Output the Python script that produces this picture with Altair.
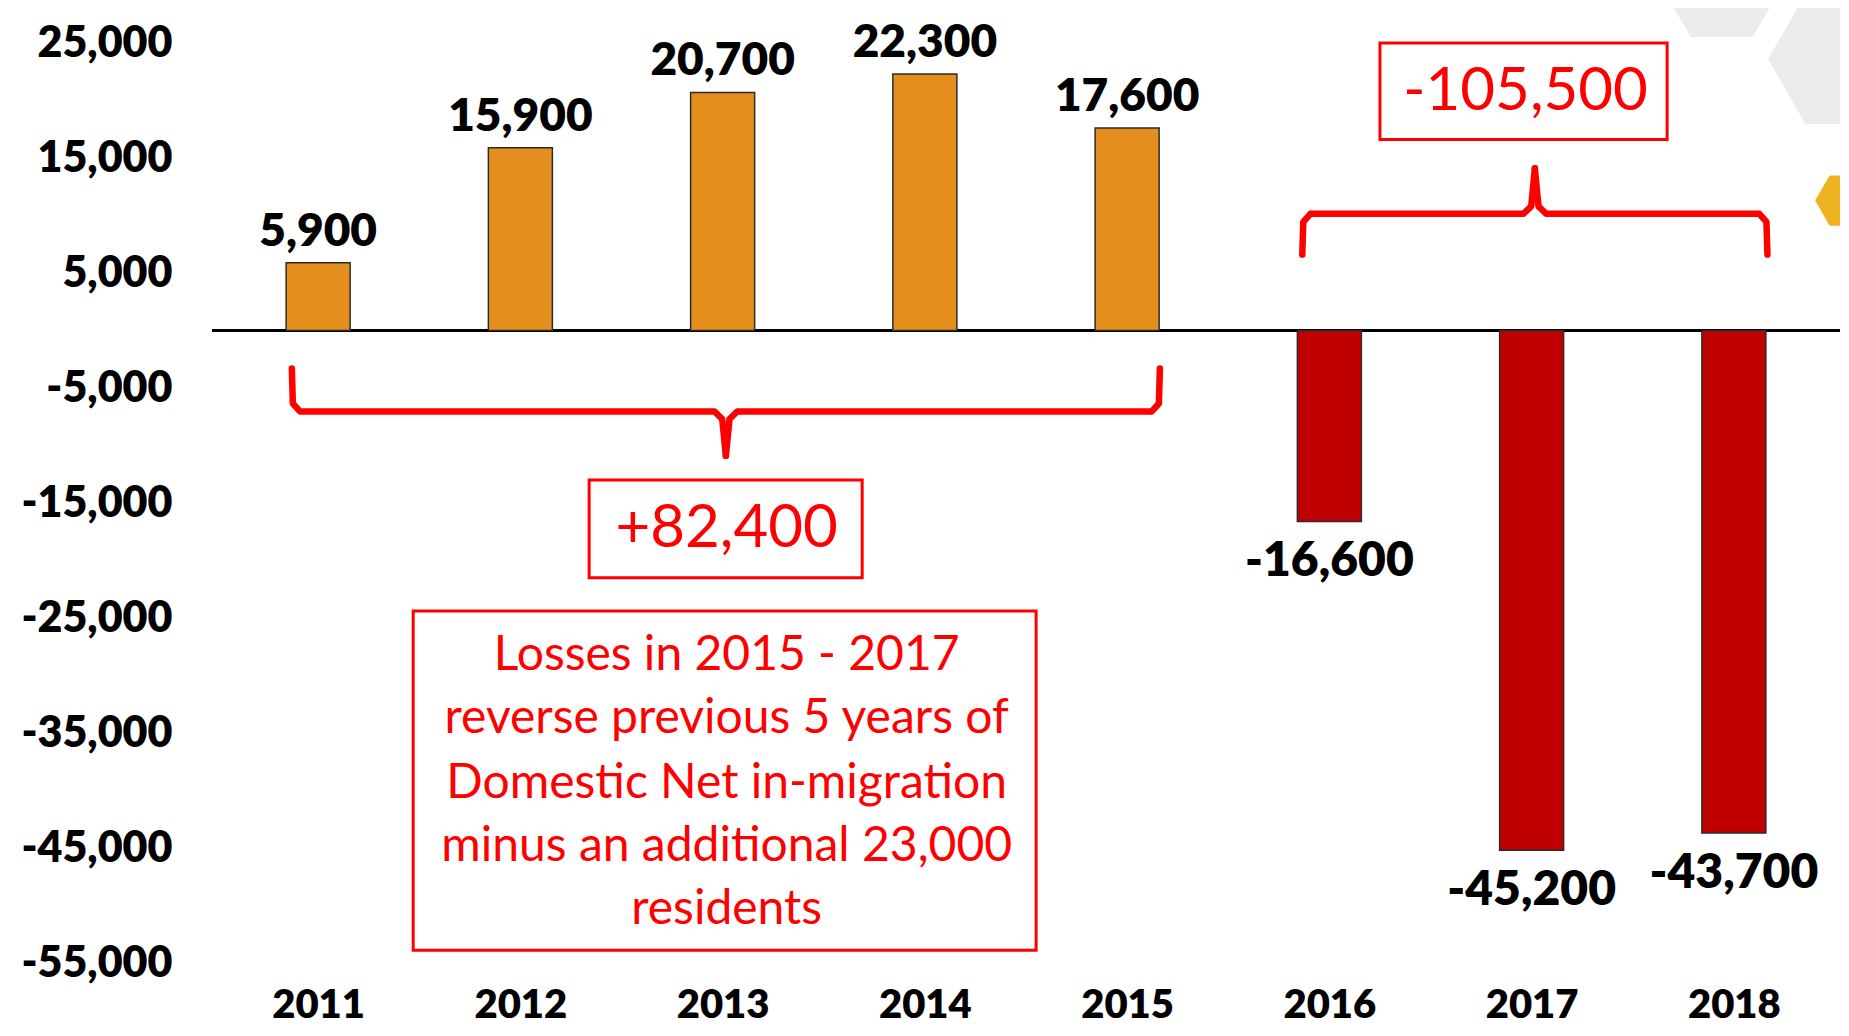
import altair as alt
import pandas as pd

# ---- chart values ----
years = [2011, 2012, 2013, 2014, 2015, 2016, 2017, 2018]
values = [5900, 15900, 20700, 22300, 17600, -16600, -45200, -43700]
y_ticks = [25000, 15000, 5000, -5000, -15000, -25000, -35000, -45000, -55000]

total_gain_label = "+82,400"
total_loss_label = "-105,500"
note_lines = [
    "Losses in 2015 - 2017",
    "reverse previous 5 years of",
    "Domestic Net in-migration",
    "minus an additional 23,000",
    "residents",
]

# ---- annotation geometry (data coordinates) ----
brace_seg = ["a"] * 6 + ["b"] * 6 + ["c"] * 6 + ["d"] * 6
brace_x = [2010.870, 2010.875, 2010.910, 2012.960, 2012.998, 2013.016,
           2015.162, 2015.157, 2015.122, 2013.072, 2013.034, 2013.016,
           2015.866, 2015.871, 2015.906, 2016.960, 2016.998, 2017.016,
           2018.166, 2018.161, 2018.126, 2017.072, 2017.034, 2017.016]
brace_y = [-3300, -6350, -7040, -7040, -7700, -10900,
           -3300, -6350, -7040, -7040, -7700, -10900,
           6600, 9450, 10150, 10150, 10800, 14100,
           6600, 9450, 10150, 10150, 10800, 14100]

box_x1 = [2012.34, 2016.25, 2011.47]
box_x2 = [2013.69, 2017.67, 2014.55]
box_y1 = [-13000, 25000, -24400]
box_y2 = [-21500, 16600, -53900]

big_label_x = [2013.02, 2016.97]
big_label_y = [-17300, 20700]
note_x = 2013.02
note_y = [-28300, -33800, -39400, -44900, -50400]

hex_x = [2017.94, 2018.54, 2018.545]
hex_y = [30200, 23600, 11300]
hex_size = [15376, 22500, 3364]
hex_color = ["#EBEBEB", "#EBEBEB", "#EFB321"]

FONT = "Lato"
RED = "#FF0000"
HEAVY = 800

df = pd.DataFrame({"year": years, "value": values})
df["label"] = [f"{v:,}" for v in values]
df["color"] = ["#E48F1D" if v > 0 else "#C00000" for v in values]

brace_df = pd.DataFrame({"seg": brace_seg, "x": brace_x, "y": brace_y,
                         "i": list(range(len(brace_x)))})
box_df = pd.DataFrame({"x1": box_x1, "x2": box_x2, "y1": box_y1, "y2": box_y2})
big_df = pd.DataFrame({"x": big_label_x, "y": big_label_y,
                       "t": [total_gain_label, total_loss_label]})
note_df = pd.DataFrame({"x": [note_x] * len(note_lines), "y": note_y, "t": note_lines})
hex_df = pd.DataFrame({"x": hex_x, "y": hex_y, "s": hex_size, "c": hex_color})

xscale = alt.Scale(domain=[2010.5, 2018.5], nice=False, zero=False)
yscale = alt.Scale(domain=[-55000, 25000], nice=False, zero=False)

X = alt.X("year:Q", scale=xscale, title=None,
          axis=alt.Axis(values=years, format="d", domain=False, ticks=False, grid=False,
                        labelFont=FONT, labelFontWeight=HEAVY, labelFontSize=40,
                        labelColor="#000000", labelPadding=42, labelBaseline="middle",
                        labelFlush=False))
Y = alt.Y("value:Q", scale=yscale, title=None,
          axis=alt.Axis(values=y_ticks, domain=False, ticks=False, grid=False,
                        labelFont=FONT, labelFontWeight=HEAVY, labelFontSize=43,
                        labelColor="#000000", labelPadding=40,
                        labelExpr="(datum.value < 0 ? '-' : '') + format(abs(datum.value), ',')"))

HEX = "M-1,0 L-0.5,-0.866 L0.5,-0.866 L1,0 L0.5,0.866 L-0.5,0.866 Z"

hexes = alt.Chart(hex_df).mark_point(shape=HEX, filled=True, opacity=1, strokeWidth=0).encode(
    x=alt.X("x:Q", scale=xscale),
    y=alt.Y("y:Q", scale=yscale),
    size=alt.Size("s:Q", scale=None),
    color=alt.Color("c:N", scale=None),
)

bars = alt.Chart(df).mark_bar(size=64, stroke="#2b2b2b", strokeWidth=1.5).encode(
    x=X, y=Y, y2=alt.datum(0), color=alt.Color("color:N", scale=None)
)

zero = alt.Chart(df).mark_rule(color="#000000", strokeWidth=2).encode(y=alt.datum(0))

pos_labels = alt.Chart(df).transform_filter("datum.value > 0").mark_text(
    font=FONT, fontWeight=HEAVY, fontSize=46, color="#000000", baseline="middle", dy=-31
).encode(x=alt.X("year:Q", scale=xscale), y=alt.Y("value:Q", scale=yscale), text="label:N")

neg_labels = alt.Chart(df).transform_filter("datum.value < 0").mark_text(
    font=FONT, fontWeight=HEAVY, fontSize=48, color="#000000", baseline="middle", dy=41
).encode(x=alt.X("year:Q", scale=xscale), y=alt.Y("value:Q", scale=yscale), text="label:N")

braces = alt.Chart(brace_df).mark_line(color=RED, strokeWidth=6.5, strokeCap="round",
                                       strokeJoin="round").encode(
    x=alt.X("x:Q", scale=xscale), y=alt.Y("y:Q", scale=yscale),
    detail="seg:N", order="i:Q"
)

boxes = alt.Chart(box_df).mark_rect(fill=None, filled=False, stroke=RED, strokeWidth=3).encode(
    x=alt.X("x1:Q", scale=xscale), x2="x2:Q",
    y=alt.Y("y1:Q", scale=yscale), y2="y2:Q"
)

big_text = alt.Chart(big_df).mark_text(font=FONT, fontSize=60, color=RED,
                                       baseline="middle", align="center").encode(
    x=alt.X("x:Q", scale=xscale), y=alt.Y("y:Q", scale=yscale), text="t:N"
)

note_text = alt.Chart(note_df).mark_text(font=FONT, fontSize=48, color=RED,
                                         baseline="middle", align="center").encode(
    x=alt.X("x:Q", scale=xscale), y=alt.Y("y:Q", scale=yscale), text="t:N"
)

chart = alt.layer(
    hexes, zero, bars, pos_labels, neg_labels, braces, boxes, big_text, note_text
).properties(
    width=1628, height=920,
    autosize=alt.AutoSizeParams(type="none"),
    padding={"left": 204, "top": 35, "right": 0, "bottom": 65},
    background="#FFFFFF",
).configure_view(stroke=None)

chart.save("out.html", embed_options={"renderer": "svg", "actions": False})
